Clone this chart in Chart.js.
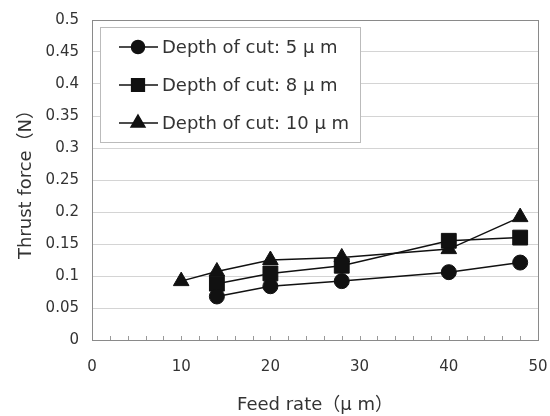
<!DOCTYPE html>
<html>
<head>
<meta charset="utf-8">
<script src="https://cdn.jsdelivr.net/npm/chart.js@4"></script>
<style>
  html, body { margin: 0; background: #fff; }
  #wrap { width: 550px; height: 416px; }
</style>
</head>
<body>
<div id="wrap"><canvas id="chart"></canvas></div>
<script>
// values
const feed5 = [14, 20, 28, 40, 48];
const force5 = [0.068, 0.084, 0.092, 0.106, 0.121];
const feed8 = [14, 20, 28, 40, 48];
const force8 = [0.088, 0.104, 0.116, 0.155, 0.160];
const feed10 = [10, 14, 20, 28, 40, 48];
const force10 = [0.092, 0.107, 0.125, 0.129, 0.142, 0.192];
const seriesLabels = ["Depth of cut: 5 μ m", "Depth of cut: 8 μ m", "Depth of cut: 10 μ m"];
const markers = ["circle", "rect", "triangle"];
const markerSizes = [7.5, 10.5, 9];
const legendSizes = [6.5, 9, 8];
const yTicks = [0, 0.05, 0.1, 0.15, 0.2, 0.25, 0.3, 0.35, 0.4, 0.45, 0.5];

const FONT = "'DejaVu Sans', 'Noto Sans CJK JP', sans-serif";
const TEXT = "#333";

function pts(xs, ys) {
  return xs.map((x, i) => ({ x, y: ys[i] }));
}

const datasets = [pts(feed5, force5), pts(feed8, force8), pts(feed10, force10)].map((data, i) => ({
  label: seriesLabels[i],
  data,
  borderColor: "#111",
  backgroundColor: "#111",
  borderWidth: 1.5,
  pointStyle: markers[i],
  pointRadius: markerSizes[i],
  pointHoverRadius: markerSizes[i],
  pointBorderWidth: 1,
  tension: 0,
}));

// plot frame + small inward ticks on the x axis
const framePlugin = {
  id: "frame",
  afterDraw(chart) {
    const { ctx, chartArea: a, scales } = chart;
    ctx.save();
    ctx.strokeStyle = "#999";
    ctx.lineWidth = 1;
    scales.x.ticks.forEach((t) => {
      const px = Math.round(scales.x.getPixelForValue(t.value)) + 0.5;
      ctx.beginPath();
      ctx.moveTo(px, a.bottom);
      ctx.lineTo(px, a.bottom - 4);
      ctx.stroke();
    });
    ctx.strokeStyle = "#8a8a8a";
    ctx.strokeRect(Math.round(a.left) + 0.5, Math.round(a.top) + 0.5,
      Math.round(a.right - a.left), Math.round(a.bottom - a.top));
    ctx.restore();
  },
};

// boxed legend with line + marker samples
const legendPlugin = {
  id: "boxLegend",
  afterDraw(chart) {
    const { ctx } = chart;
    const box = { left: 100, top: 27, width: 260, height: 115 };
    ctx.save();
    ctx.fillStyle = "#fff";
    ctx.fillRect(box.left, box.top, box.width, box.height);
    ctx.strokeStyle = "#bbb";
    ctx.lineWidth = 1;
    ctx.strokeRect(box.left + 0.5, box.top + 0.5, box.width, box.height);
    chart.data.datasets.forEach((ds, i) => {
      const y = 47 + i * 38;
      ctx.strokeStyle = "#111";
      ctx.lineWidth = 1.5;
      ctx.beginPath();
      ctx.moveTo(119, y);
      ctx.lineTo(158, y);
      ctx.stroke();
      ctx.fillStyle = "#111";
      Chart.helpers.drawPoint(ctx, { pointStyle: ds.pointStyle, radius: legendSizes[i], borderWidth: 1 }, 138, y);
      ctx.fillStyle = TEXT;
      ctx.font = "18px " + FONT;
      ctx.textBaseline = "middle";
      ctx.textAlign = "left";
      ctx.fillText(ds.label, 162, y + 1);
    });
    ctx.restore();
  },
};

new Chart(document.getElementById("chart"), {
  type: "line",
  data: { datasets },
  plugins: [framePlugin, legendPlugin],
  options: {
    responsive: true,
    maintainAspectRatio: false,
    animation: false,
    layout: { padding: { top: 20, right: 12, bottom: 0, left: 0 } },
    plugins: { legend: { display: false }, tooltip: { enabled: false } },
    scales: {
      x: {
        type: "linear",
        min: 0,
        max: 50,
        afterFit: (s) => { s.height = 76; s.paddingLeft = 0; s.paddingRight = 0; },
        ticks: {
          stepSize: 2,
          autoSkip: false,
          maxRotation: 0,
          padding: 10,
          color: TEXT,
          font: { family: FONT, size: 15 },
          callback: (v) => (v % 10 === 0 ? String(v) : ""),
        },
        grid: { display: false },
        border: { display: false },
        title: {
          display: true,
          text: "Feed rate（μ m）",
          color: TEXT,
          font: { family: FONT, size: 18 },
          padding: { top: 0, bottom: 0 },
        },
      },
      y: {
        min: 0,
        max: 0.5,
        afterFit: (s) => { s.width = 92; s.paddingTop = 0; s.paddingBottom = 0; },
        afterBuildTicks: (s) => { s.ticks = yTicks.map((v) => ({ value: v })); },
        ticks: {
          padding: 13,
          color: TEXT,
          font: { family: FONT, size: 15 },
          callback: (v) => String(v),
        },
        grid: { color: "#d4d4d4", lineWidth: 1, drawTicks: false },
        border: { display: false },
        title: {
          display: true,
          text: "Thrust force（N）",
          color: TEXT,
          font: { family: FONT, size: 18 },
          padding: { top: 16, bottom: 0 },
        },
      },
    },
  },
});
</script>
</body>
</html>
